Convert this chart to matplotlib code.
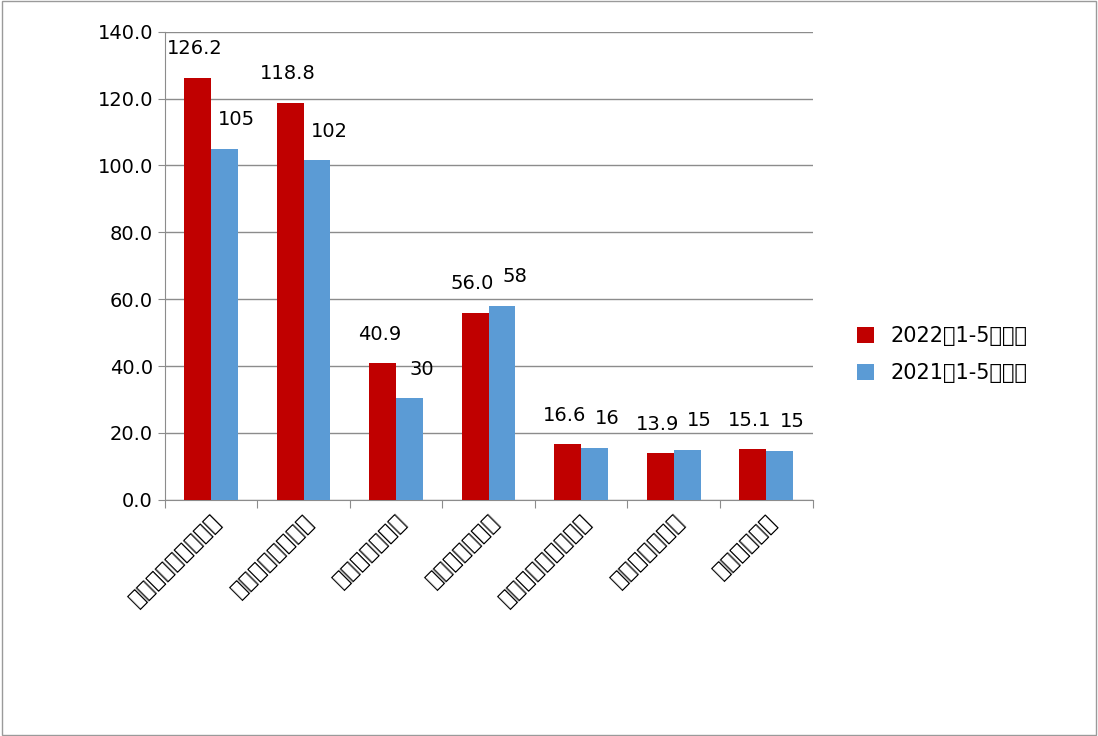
import numpy as np
import matplotlib.pyplot as plt
from matplotlib import font_manager

cjk = [f.name for f in font_manager.fontManager.ttflist if "CJK" in f.name]
cjk_name = "Noto Sans CJK SC" if "Noto Sans CJK SC" in cjk else (cjk[0] if cjk else "DejaVu Sans")
plt.rcParams["font.family"] = "sans-serif"
plt.rcParams["font.sans-serif"] = ["DejaVu Sans", cjk_name]

categories = ["工业总产值（亿元）", "销售收入（亿元）", "出口额（亿元）", "总产量（万吨）",
              "其中促进剂（万吨）", "防老剂（万吨）", "出口（万吨）"]
values_2022 = [126.2, 118.8, 40.9, 56.0, 16.6, 13.9, 15.1]
values_2021 = [105, 101.5, 30.4, 58, 15.6, 15.0, 14.6]
series_names = ["2022年1-5月累计", "2021年1-5月累计"]

fig = plt.figure(figsize=(10.98, 7.36), dpi=100)
fig.patches.append(plt.Rectangle((0.002, 0.002), 0.996, 0.996, transform=fig.transFigure,
                                 fill=False, edgecolor="#9a9a9a", linewidth=1))
ax = fig.add_axes([0.150, 0.321, 0.590, 0.636])

x = np.arange(len(categories))
w = 0.29
b1 = ax.bar(x - w / 2, values_2022, w, color="#C00000", label=series_names[0], zorder=3)
b2 = ax.bar(x + w / 2, values_2021, w, color="#5B9BD5", label=series_names[1], zorder=3)

for rect, v in zip(b1, values_2022):
    ax.annotate(f"{v:.1f}", (rect.get_x() + rect.get_width() / 2, v), xytext=(-2, 14),
                textcoords="offset points", ha="center", va="bottom", fontsize=14)
for rect, v in zip(b2, values_2021):
    ax.annotate(f"{v:.0f}", (rect.get_x() + rect.get_width() / 2, v), xytext=(9, 14),
                textcoords="offset points", ha="center", va="bottom", fontsize=14)

ax.set_ylim(0, 140)
ax.set_xlim(-0.5, len(categories) - 0.5)
ax.set_yticks(np.arange(0, 141, 20))
ax.set_yticklabels([f"{t:.1f}" for t in np.arange(0, 141, 20)], fontsize=14)
ax.yaxis.grid(True, color="#8c8c8c", linewidth=1, zorder=0)
ax.tick_params(axis="y", length=5, color="#8c8c8c")

ax.set_xticks(np.arange(-0.5, len(categories)), minor=False)
ax.set_xticklabels([])
ax.set_xticks(x, minor=True)
ax.set_xticklabels(categories, minor=True, rotation=45, ha="right", rotation_mode="anchor",
                   fontsize=16)
ax.tick_params(axis="x", which="major", length=6, color="#8c8c8c")
ax.tick_params(axis="x", which="minor", length=0, pad=8)

for s in ["top", "right"]:
    ax.spines[s].set_visible(False)
ax.spines["left"].set_color("#8c8c8c")
ax.spines["bottom"].set_color("#8c8c8c")

ax.legend(loc="center left", bbox_to_anchor=(1.04, 0.31), frameon=False, fontsize=15,
          handlelength=0.8, handleheight=0.8, labelspacing=0.8)

fig.savefig("out.png", dpi=100)
